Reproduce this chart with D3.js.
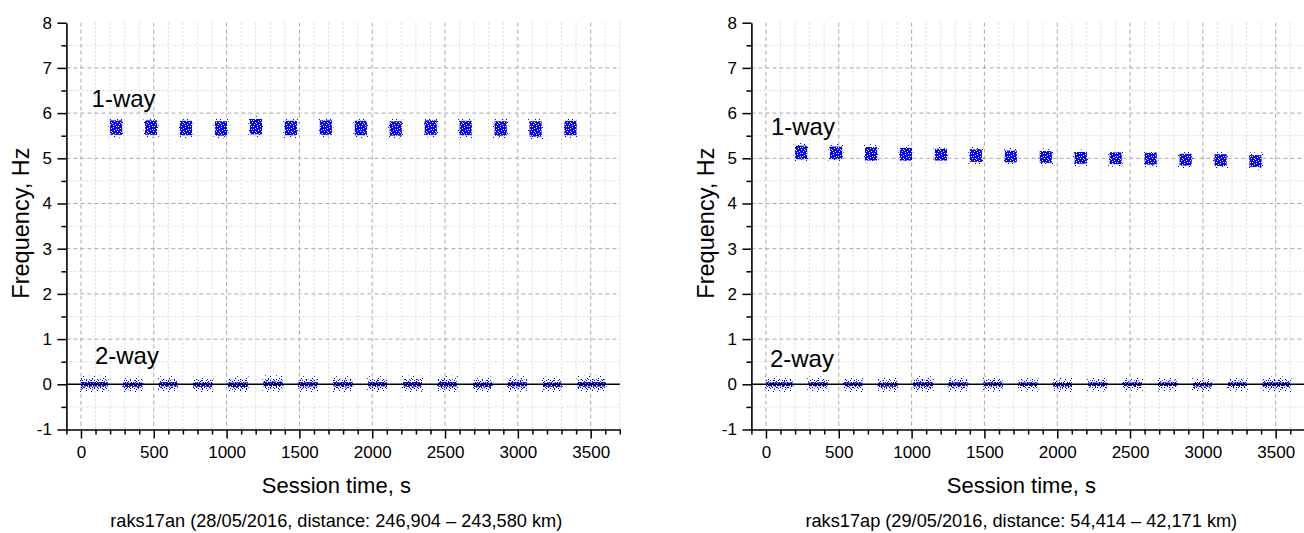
<!DOCTYPE html>
<html>
<head>
<meta charset="utf-8">
<script src="https://cdn.jsdelivr.net/npm/d3@7"></script>
<style>
  html, body { margin: 0; padding: 0; background: #fff; }
  svg { display: block; font-family: "Liberation Sans", Arial, sans-serif; }
</style>
</head>
<body>
<svg id="chart" width="1304" height="533"></svg>
<script>
// ---------------- data ----------------
const timeTicks = [0, 500, 1000, 1500, 2000, 2500, 3000, 3500];
const freqTicks = [-1, 0, 1, 2, 3, 4, 5, 6, 7, 8];
const timeMinorTicks = [-100, 100, 200, 300, 400, 600, 700, 800, 900, 1100, 1200, 1300, 1400, 1600, 1700, 1800, 1900, 2100, 2200, 2300, 2400, 2600, 2700, 2800, 2900, 3100, 3200, 3300, 3400, 3600, 3700];
const freqMinorTicks = [-0.5, 0.5, 1.5, 2.5, 3.5, 4.5, 5.5, 6.5, 7.5];

const sessions = ["raks17an", "raks17ap"];
const captions = [
  "raks17an (28/05/2016, distance: 246,904 \u2013 243,580 km)",
  "raks17ap (29/05/2016, distance: 54,414 \u2013 42,171 km)"
];
const xTitle = "Session time, s";
const yTitle = "Frequency, Hz";
const seriesNames = ["1-way", "2-way"];

// 1-way scans: start / end of each scan (s)
const oneWayStart = [200, 440, 680, 920, 1160, 1400, 1640, 1880, 2120, 2360, 2600, 2840, 3080, 3320];
const oneWayEnd   = [283, 523, 763, 1003, 1243, 1483, 1723, 1963, 2203, 2443, 2683, 2923, 3163, 3403];
// mean frequency of each 1-way scan (Hz)
const oneWayFreqAn = [5.68, 5.68, 5.67, 5.66, 5.70, 5.67, 5.68, 5.67, 5.66, 5.68, 5.67, 5.66, 5.65, 5.67];
const oneWayFreqAp = [5.13, 5.12, 5.10, 5.09, 5.08, 5.06, 5.04, 5.03, 5.01, 5.00, 4.99, 4.97, 4.96, 4.94];
// half-width of the scatter of each scan (Hz)
const oneWaySpreadAn = [0.16, 0.16, 0.16, 0.16, 0.17, 0.16, 0.16, 0.16, 0.16, 0.16, 0.16, 0.16, 0.17, 0.16];
const oneWaySpreadAp = [0.15, 0.14, 0.15, 0.14, 0.13, 0.14, 0.13, 0.13, 0.13, 0.13, 0.13, 0.13, 0.13, 0.13];

// 2-way scans
const twoWayStart = [0, 290, 535, 772, 1012, 1253, 1494, 1733, 1972, 2212, 2452, 2692, 2932, 3172, 3411];
const twoWayEnd   = [183, 423, 662, 903, 1145, 1384, 1625, 1864, 2101, 2341, 2581, 2821, 3061, 3301, 3601];
const twoWayFreqAn = [0.00, -0.01, 0.00, -0.01, -0.01, 0.01, 0.00, 0.00, 0.00, 0.00, 0.00, -0.01, 0.00, -0.01, 0.00];
const twoWayFreqAp = [0.00, 0.00, 0.00, -0.01, 0.00, 0.00, 0.00, 0.00, -0.01, 0.00, 0.00, 0.00, -0.01, 0.00, 0.00];
const twoWaySpreadAn = [0.14, 0.13, 0.13, 0.13, 0.14, 0.14, 0.13, 0.13, 0.13, 0.14, 0.14, 0.13, 0.13, 0.13, 0.14];
const twoWaySpreadAp = [0.12, 0.12, 0.12, 0.12, 0.13, 0.12, 0.12, 0.11, 0.11, 0.11, 0.11, 0.11, 0.11, 0.11, 0.12];

// label anchors (time s, freq Hz)
const labelTimeAn = [73, 96];
const labelFreqAn = [6.13, 0.45];
const labelTimeAp = [34, 27];
const labelFreqAp = [5.52, 0.38];

// ---------------- layout / style ----------------
const svg = d3.select("#chart");
const FONT = '"Liberation Sans", Arial, sans-serif';
const BLUE = "#0000ff";
const panelShift = [0, 685];
const plotLeft = 66.4, plotRight = 619.8, plotTop = 22.7, plotBottom = 429.5;

svg.append("rect").attr("width", 1304).attr("height", 533).attr("fill", "#fff");

// stipple textures for the scatter clouds (pure styling)
const defs = svg.append("defs");
function stipple(id, size, dots, dot, bg, ink) {
  const p = defs.append("pattern").attr("id", id)
    .attr("patternUnits", "userSpaceOnUse")
    .attr("width", size).attr("height", size);
  if (bg) p.append("rect").attr("width", size).attr("height", size).attr("fill", bg);
  dots.forEach(d => p.append("rect")
    .attr("x", d[0]).attr("y", d[1]).attr("width", dot).attr("height", dot)
    .attr("shape-rendering", "crispEdges").attr("fill", ink));
}
// dense core: blue with white holes
stipple("dense", 9, [[1,0],[5,1],[8,3],[3,2],[0,5],[6,4],[2,7],[4,6],[7,7],[1,3],[5,8],[8,0],[3,5]], 1, BLUE, "#fff");
stipple("medium", 8, [[0,0],[2,1],[5,0],[7,2],[1,3],[4,3],[6,4],[0,5],[3,6],[5,6],[7,6],[2,4],[6,1],[4,7],[1,7]], 1.2, null, BLUE);
stipple("sparse", 11, [[1,1],[6,2],[9,5],[3,6],[7,9],[0,9],[4,4],[8,0]], 1.2, null, BLUE);

const panels = [
  { name: sessions[0], caption: captions[0],
    oneF: oneWayFreqAn, oneS: oneWaySpreadAn, twoF: twoWayFreqAn, twoS: twoWaySpreadAn,
    lt: labelTimeAn, lf: labelFreqAn },
  { name: sessions[1], caption: captions[1],
    oneF: oneWayFreqAp, oneS: oneWaySpreadAp, twoF: twoWayFreqAp, twoS: twoWaySpreadAp,
    lt: labelTimeAp, lf: labelFreqAp }
];

panels.forEach((P, i) => {
  const dx = panelShift[i];
  const x = d3.scaleLinear().domain([-100, 3700]).range([plotLeft + dx, plotRight + dx]);
  const y = d3.scaleLinear().domain([-1, 8]).range([plotBottom, plotTop]);
  const g = svg.append("g");

  // minor grid
  g.append("g").selectAll("line").data(timeMinorTicks.filter(t => t > -100))
    .join("line").attr("x1", d => x(d)).attr("x2", d => x(d))
    .attr("y1", plotTop).attr("y2", plotBottom)
    .attr("stroke", "#d9d9d9").attr("stroke-width", 1).attr("stroke-dasharray", "2,2");
  g.append("g").selectAll("line").data(freqMinorTicks)
    .join("line").attr("x1", x(-100)).attr("x2", x(3700))
    .attr("y1", d => y(d)).attr("y2", d => y(d))
    .attr("stroke", "#d9d9d9").attr("stroke-width", 1).attr("stroke-dasharray", "2,2");
  // major grid
  g.append("g").selectAll("line").data(timeTicks)
    .join("line").attr("x1", d => x(d)).attr("x2", d => x(d))
    .attr("y1", plotTop).attr("y2", plotBottom)
    .attr("stroke", "#a8a8a8").attr("stroke-width", 1).attr("stroke-dasharray", "4,3");
  g.append("g").selectAll("line").data(freqTicks.filter(f => f > 0 && f < 8))
    .join("line").attr("x1", x(-100)).attr("x2", x(3700))
    .attr("y1", d => y(d)).attr("y2", d => y(d))
    .attr("stroke", "#a8a8a8").attr("stroke-width", 1).attr("stroke-dasharray", "4,3");

  // scatter clouds: 1-way
  const one = oneWayStart.map((s, k) => ({ s, e: oneWayEnd[k], f: P.oneF[k], w: P.oneS[k] }));
  g.append("g").selectAll("rect").data(one).join("rect")
    .attr("x", d => x(d.s) - 1.5).attr("width", d => x(d.e) - x(d.s) + 3)
    .attr("y", d => y(d.f + d.w + 0.06)).attr("height", d => y(d.f - d.w - 0.06) - y(d.f + d.w + 0.06))
    .attr("fill", "url(#sparse)");
  g.append("g").selectAll("rect").data(one).join("rect")
    .attr("x", d => x(d.s)).attr("width", d => x(d.e) - x(d.s))
    .attr("y", d => y(d.f + d.w)).attr("height", d => y(d.f - d.w) - y(d.f + d.w))
    .attr("fill", "url(#dense)");

  // scatter clouds: 2-way
  const two = twoWayStart.map((s, k) => ({ s, e: twoWayEnd[k], f: P.twoF[k], w: P.twoS[k] }));
  g.append("g").selectAll("rect").data(two).join("rect")
    .attr("x", d => x(d.s) - 1).attr("width", d => x(d.e) - x(d.s) + 2)
    .attr("y", d => y(d.f + d.w + 0.05)).attr("height", d => y(d.f - d.w - 0.05) - y(d.f + d.w + 0.05))
    .attr("fill", "url(#sparse)");
  g.append("g").selectAll("rect").data(two).join("rect")
    .attr("x", d => x(d.s)).attr("width", d => x(d.e) - x(d.s))
    .attr("y", d => y(d.f + d.w * 0.8)).attr("height", d => y(d.f - d.w * 0.8) - y(d.f + d.w * 0.8))
    .attr("fill", "url(#medium)");
  g.append("g").selectAll("rect").data(two).join("rect")
    .attr("x", d => x(d.s)).attr("width", d => x(d.e) - x(d.s))
    .attr("y", d => y(d.f + d.w * 0.35)).attr("height", d => y(d.f - d.w * 0.35) - y(d.f + d.w * 0.35))
    .attr("fill", "url(#dense)");

  // zero line
  g.append("line").attr("x1", x(-100)).attr("x2", x(3700))
    .attr("y1", y(0)).attr("y2", y(0)).attr("stroke", "#000").attr("stroke-width", 1.6);

  // axes
  const styleAxis = sel => {
    sel.select(".domain").attr("stroke", "#000").attr("stroke-width", 1.6);
    sel.selectAll(".tick line").attr("stroke", "#000").attr("stroke-width", 1.5);
    sel.selectAll("text").attr("font-family", FONT).attr("font-size", 17).attr("fill", "#000");
  };
  const fmt = d => String(d);
  g.append("g").attr("transform", `translate(${x(-100)},0)`)
    .call(d3.axisLeft(y).tickValues(freqTicks).tickSize(9).tickSizeOuter(0).tickPadding(5.5).tickFormat(fmt))
    .call(styleAxis);
  g.append("g").attr("transform", `translate(${x(-100)},0)`)
    .call(d3.axisLeft(y).tickValues(freqMinorTicks).tickSize(5).tickSizeOuter(0).tickFormat(""))
    .call(styleAxis).select(".domain").remove();
  g.append("g").attr("transform", `translate(0,${y(-1)})`)
    .call(d3.axisBottom(x).tickValues(timeTicks).tickSize(9).tickSizeOuter(0).tickPadding(7).tickFormat(fmt))
    .call(styleAxis);
  g.append("g").attr("transform", `translate(0,${y(-1)})`)
    .call(d3.axisBottom(x).tickValues(timeMinorTicks).tickSize(5).tickSizeOuter(0).tickFormat(""))
    .call(styleAxis).select(".domain").remove();

  // series labels
  seriesNames.forEach((n, k) => {
    g.append("text").attr("x", x(P.lt[k])).attr("y", y(P.lf[k]))
      .attr("font-family", FONT).attr("font-size", 24).attr("fill", "#000").text(n);
  });

  // axis titles
  const cx = x(1750) + 0.5;
  g.append("text").attr("x", cx).attr("y", 493)
    .attr("text-anchor", "middle").attr("font-family", FONT).attr("font-size", 22)
    .attr("fill", "#000").text(xTitle);
  g.append("text")
    .attr("transform", `translate(${x(-100) - 37},${(y(-1) + y(8)) / 2 - 3}) rotate(-90)`)
    .attr("text-anchor", "middle").attr("font-family", FONT).attr("font-size", 23.5)
    .attr("fill", "#000").text(yTitle);

  // caption
  g.append("text").attr("x", cx).attr("y", 527)
    .attr("text-anchor", "middle").attr("font-family", FONT).attr("font-size", 18.2)
    .attr("fill", "#000").text(P.caption);
});
</script>
</body>
</html>
